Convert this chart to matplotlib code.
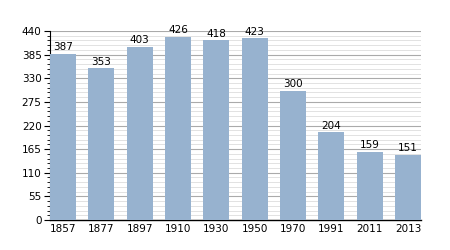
import numpy as np
import matplotlib.pyplot as plt
from matplotlib.ticker import MultipleLocator

years = ['1857', '1877', '1897', '1910', '1930', '1950', '1970', '1991', '2011', '2013']
population = [387, 353, 403, 426, 418, 423, 300, 204, 159, 151]

fig = plt.figure(figsize=(4.5, 2.5), dpi=100)
ax = fig.add_axes([0.111, 0.12, 0.825, 0.756])

x = np.arange(len(years))
w = 0.68
ax.bar(x, population, width=w, color='#97b2cf', zorder=3)
for xi, v in zip(x, population):
    ax.text(xi, v + 4, str(v), ha='center', va='bottom', fontsize=7.5, zorder=4)

ax.set_xlim(-w / 2, len(years) - 1 + w / 2)
ax.set_ylim(0, 440)
ax.yaxis.set_major_locator(MultipleLocator(55))
ax.yaxis.set_minor_locator(MultipleLocator(11))
ax.grid(which='major', axis='y', color='#aaaaaa', linewidth=0.8, zorder=0)
ax.grid(which='minor', axis='y', color='#dddddd', linewidth=0.6, zorder=0)

ax.set_xticks(x)
ax.set_xticklabels(years)
ax.tick_params(axis='x', length=0, labelsize=7.5, pad=3)
ax.tick_params(axis='y', which='major', length=4, width=0.8, labelsize=7.5, pad=2)
ax.tick_params(axis='y', which='minor', length=2, width=0.6)

for s in ['top', 'right']:
    ax.spines[s].set_visible(False)
ax.spines['left'].set_linewidth(0.8)
ax.spines['bottom'].set_linewidth(1.0)

fig.savefig('out.png', dpi=100)
